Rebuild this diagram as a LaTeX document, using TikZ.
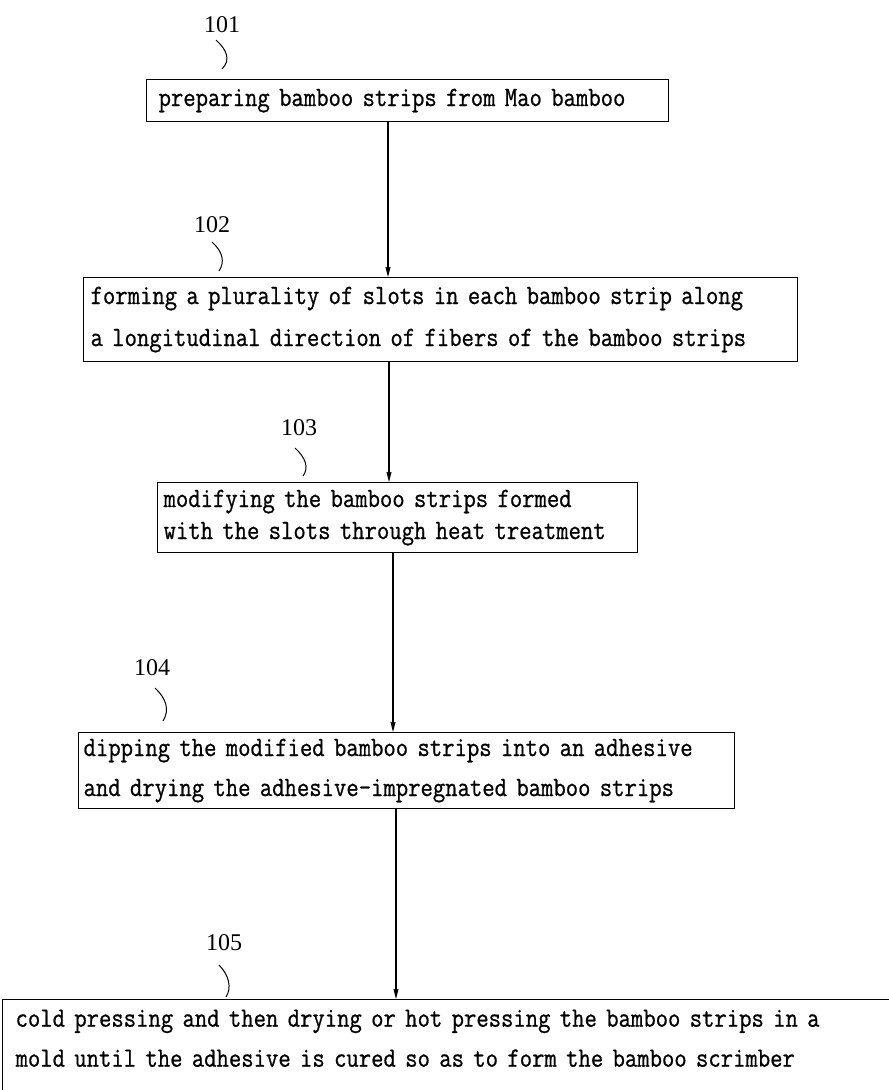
\documentclass[tikz,border=0pt]{standalone}
\usepackage{fontspec}
\newfontfamily\boxfont{Latin Modern Mono}[FakeBold=0.7, FakeStretch=0.857]
\newfontfamily\numfont{Liberation Serif}
\usetikzlibrary{arrows.meta}
\begin{document}
\begin{tikzpicture}[x=1pt,y=-1pt,
  stepbox/.style={draw, line width=1.2pt, anchor=north west, align=left, inner ysep=0pt},
  lbl/.style={font=\numfont\fontsize{24}{26}\selectfont, inner sep=0pt},
  flow/.style={line width=1.1pt, -{Stealth[length=10pt,width=5pt,inset=1pt]}},
  squig/.style={line width=1pt}]
\useasboundingbox (0,0) rectangle (889,1090);
\fill[white] (0,0) rectangle (889,1090);

% boxes
\node[stepbox, minimum height=42pt, text width=498pt, inner xsep=12pt,
      font=\boxfont\fontsize{28}{42}\selectfont] (s1) at (146,79)
  {preparing bamboo strips from Mao bamboo};
\node[stepbox, minimum height=84pt, text width=700pt, inner xsep=7pt,
      font=\boxfont\fontsize{28}{42}\selectfont] (s2) at (83,277)
  {forming a plurality of slots in each bamboo strip along\\a longitudinal direction of fibers of the bamboo strips};
\node[stepbox, minimum height=70pt, text width=468pt, inner xsep=6pt,
      font=\boxfont\fontsize{28}{32}\selectfont] (s3) at (157,482)
  {modifying the bamboo strips formed\\with the slots through heat treatment};
\node[stepbox, minimum height=76pt, text width=646pt, inner xsep=5pt,
      font=\boxfont\fontsize{28}{40}\selectfont] (s4) at (78,732)
  {dipping the modified bamboo strips into an adhesive\\and drying the adhesive-impregnated bamboo strips};
\node[stepbox, text depth=80pt, inner ysep=10pt, text width=880pt, inner xsep=13pt,
      font=\boxfont\fontsize{28}{40}\selectfont] (s5) at (2,999)
  {cold pressing and then drying or hot pressing the bamboo strips in a\\mold until the adhesive is cured so as to form the bamboo scrimber};

% arrows
\coordinate (x1) at (388,0);
\coordinate (x2) at (389,0);
\coordinate (x3) at (393,0);
\coordinate (x4) at (396,0);
\draw[flow] (s1.south -| x1) -- (s2.north -| x1);
\draw[flow] (s2.south -| x2) -- (s3.north -| x2);
\draw[flow] (s3.south -| x3) -- (s4.north -| x3);
\draw[flow] (s4.south -| x4) -- (s5.north -| x4);

% labels and leaders
\node[lbl] (l1) at (222,25) {101};
\draw[squig] (216,40) .. controls (227,50) and (231,60) .. (222,69);
\node[lbl] (l2) at (212,225) {102};
\draw[squig] (212,242) .. controls (223,252) and (225,262) .. (219,271);
\node[lbl] (l3) at (299,428) {103};
\draw[squig] (295,448) .. controls (306,458) and (309,468) .. (303,476);
\node[lbl] (l4) at (152,668) {104};
\draw[squig] (155,688) .. controls (166,698) and (170,710) .. (163,721);
\node[lbl] (l5) at (224,943) {105};
\draw[squig] (219,965) .. controls (229,975) and (232,988) .. (226,997);
\end{tikzpicture}
\end{document}
